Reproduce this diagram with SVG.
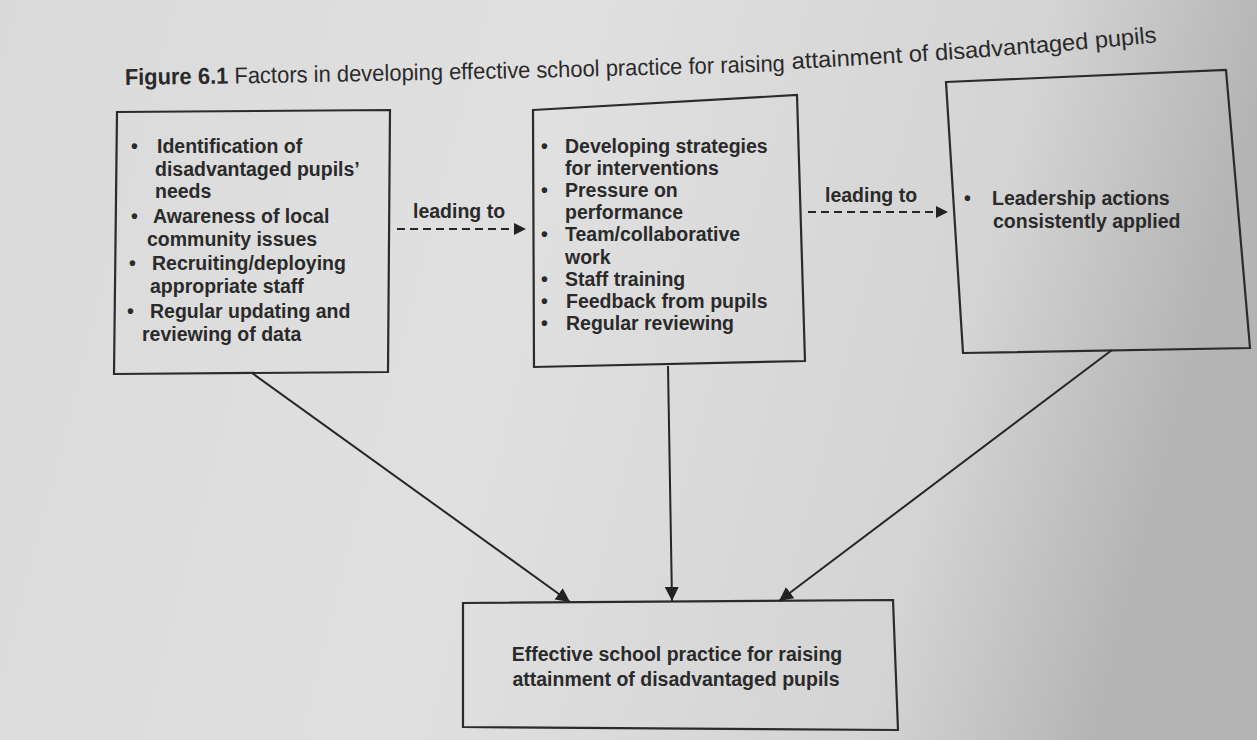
<svg xmlns="http://www.w3.org/2000/svg" width="1257" height="740" viewBox="0 0 1257 740">
<defs>
<linearGradient id="paper" x1="0" y1="0" x2="1" y2="0.15">
<stop offset="0" stop-color="#dadada"/>
<stop offset="0.45" stop-color="#e0e0e0"/>
<stop offset="0.82" stop-color="#d4d4d4"/>
<stop offset="1" stop-color="#b4b4b4"/>
</linearGradient>
<marker id="ah" markerUnits="userSpaceOnUse" markerWidth="16" markerHeight="16" refX="14" refY="7" orient="auto">
<path d="M0,0 L14,7 L0,14 Z" fill="#222"/>
</marker>
<marker id="ahs" markerUnits="userSpaceOnUse" markerWidth="14" markerHeight="14" refX="12" refY="6" orient="auto">
<path d="M0,0 L12,6 L0,12 Z" fill="#222"/>
</marker>
<path id="titleA" d="M125,85 C350,82 600,77 786,71"/>
<path id="titleB" d="M792,69 C920,62 1040,54 1160,42"/>
<style>
.box{fill:none;stroke:#2b2b2b;stroke-width:2.2;stroke-linejoin:miter}
.t{font-family:"Liberation Sans",Arial,sans-serif;font-size:19.5px;font-weight:bold;fill:#2a2a2a}
.b{font-family:"Liberation Sans",Arial,sans-serif;font-size:19.5px;font-weight:bold;fill:#2a2a2a}
.lbl{font-family:"Liberation Sans",Arial,sans-serif;font-size:19.5px;font-weight:bold;fill:#2a2a2a}
.title{font-family:"Liberation Sans Narrow","Liberation Sans",Arial,sans-serif;font-size:23px;fill:#2a2a2a}
.conn{fill:none;stroke:#262626;stroke-width:2}
.dash{fill:none;stroke:#262626;stroke-width:2;stroke-dasharray:8 5}
</style>
</defs>
<rect x="0" y="0" width="1257" height="740" fill="url(#paper)"/>

<text class="title" textLength="660" lengthAdjust="spacingAndGlyphs"><textPath href="#titleA"><tspan font-weight="bold">Figure 6.1</tspan> Factors in developing effective school practice for raising</textPath></text>
<text class="title" textLength="366" lengthAdjust="spacingAndGlyphs" style="font-family:'Liberation Sans',Arial,sans-serif"><textPath href="#titleB">attainment of disadvantaged pupils</textPath></text>

<g id="node-factors">
<polygon class="box" points="117,112 390,110 388,372 114,374"/>
<text class="b" x="131" y="153">•</text>
<text class="t" x="157" y="153">Identification of</text>
<text class="t" x="155" y="176">disadvantaged pupils’</text>
<text class="t" x="155" y="198">needs</text>
<text class="b" x="131" y="223">•</text>
<text class="t" x="153" y="223">Awareness of local</text>
<text class="t" x="147" y="246">community issues</text>
<text class="b" x="129" y="270">•</text>
<text class="t" x="152" y="270">Recruiting/deploying</text>
<text class="t" x="150" y="293">appropriate staff</text>
<text class="b" x="127" y="318">•</text>
<text class="t" x="150" y="318">Regular updating and</text>
<text class="t" x="142" y="341">reviewing of data</text>
</g>

<g id="node-strategies">
<polygon class="box" points="533,110 797,95 805,361 534,367"/>
<text class="b" x="541" y="153">•</text>
<text class="t" x="565" y="153">Developing strategies</text>
<text class="t" x="565" y="175">for interventions</text>
<text class="b" x="541" y="197">•</text>
<text class="t" x="565" y="197">Pressure on</text>
<text class="t" x="565" y="219">performance</text>
<text class="b" x="541" y="241">•</text>
<text class="t" x="565" y="241">Team/collaborative</text>
<text class="t" x="565" y="264">work</text>
<text class="b" x="541" y="286">•</text>
<text class="t" x="565" y="286">Staff training</text>
<text class="b" x="541" y="308">•</text>
<text class="t" x="566" y="308">Feedback from pupils</text>
<text class="b" x="541" y="330">•</text>
<text class="t" x="566" y="330">Regular reviewing</text>
</g>

<g id="node-leadership">
<polygon class="box" points="946,82 1226,70 1250,348 963,353"/>
<text class="b" x="964" y="205">•</text>
<text class="t" x="992" y="205">Leadership actions</text>
<text class="t" x="993" y="228">consistently applied</text>
</g>

<g id="node-effective">
<polygon class="box" points="463,603 893,600 898,730 463,727"/>
<text class="t" x="677" y="661" text-anchor="middle" font-size="20.5">Effective school practice for raising</text>
<text class="t" x="676" y="686" text-anchor="middle" font-size="20.5">attainment of disadvantaged pupils</text>
</g>

<g id="connectors">
<path class="dash" d="M397,229 L526,229" marker-end="url(#ahs)"/>
<text class="lbl" x="413" y="218">leading to</text>
<path class="dash" d="M808,212 L948,212" marker-end="url(#ahs)"/>
<text class="lbl" x="825" y="202">leading to</text>
<path class="conn" d="M252,373 L570,602" marker-end="url(#ah)"/>
<path class="conn" d="M668,366 L672,601" marker-end="url(#ah)"/>
<path class="conn" d="M1112,350 L779,601" marker-end="url(#ah)"/>
</g>
</svg>
